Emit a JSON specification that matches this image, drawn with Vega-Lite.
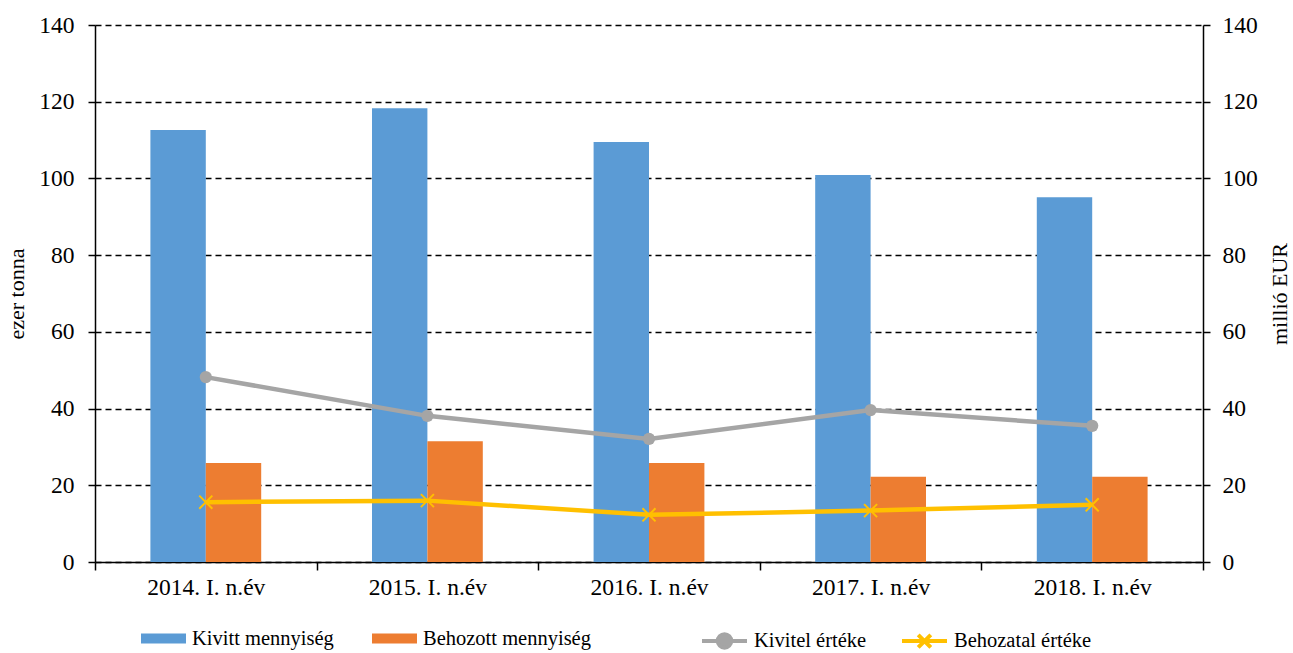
{
  "$schema": "https://vega.github.io/schema/vega-lite/v6.json",
  "autosize": {"type": "none"},
  "width": 1108,
  "height": 537,
  "padding": {"left": 95, "top": 25, "right": 90, "bottom": 91},
  "background": "white",
  "config": {
    "view": {"stroke": null},
    "font": "Liberation Serif",
    "axis": {
      "labelFont": "Liberation Serif",
      "titleFont": "Liberation Serif",
      "labelFontSize": 23.5,
      "titleFontSize": 22,
      "titleFontWeight": "normal",
      "labelColor": "black",
      "titleColor": "black",
      "domainColor": "black",
      "domainWidth": 1.5,
      "tickColor": "black",
      "tickWidth": 1.5
    },
    "legend": {
      "labelFont": "Liberation Serif",
      "labelFontSize": 20.5,
      "labelColor": "black",
      "labelLimit": 400
    }
  },
  "data": {
    "values": [
      {"year": "2014. I. n.év", "series": "Kivitt mennyiség", "value": 112.6},
      {"year": "2015. I. n.év", "series": "Kivitt mennyiség", "value": 118.3},
      {"year": "2016. I. n.év", "series": "Kivitt mennyiség", "value": 109.5},
      {"year": "2017. I. n.év", "series": "Kivitt mennyiség", "value": 100.9},
      {"year": "2018. I. n.év", "series": "Kivitt mennyiség", "value": 95.1},
      {"year": "2014. I. n.év", "series": "Behozott mennyiség", "value": 25.8},
      {"year": "2015. I. n.év", "series": "Behozott mennyiség", "value": 31.5},
      {"year": "2016. I. n.év", "series": "Behozott mennyiség", "value": 25.8},
      {"year": "2017. I. n.év", "series": "Behozott mennyiség", "value": 22.2},
      {"year": "2018. I. n.év", "series": "Behozott mennyiség", "value": 22.2},
      {"year": "2014. I. n.év", "series": "Kivitel értéke", "value": 48.2},
      {"year": "2015. I. n.év", "series": "Kivitel értéke", "value": 38.1},
      {"year": "2016. I. n.év", "series": "Kivitel értéke", "value": 32.1},
      {"year": "2017. I. n.év", "series": "Kivitel értéke", "value": 39.6},
      {"year": "2018. I. n.év", "series": "Kivitel értéke", "value": 35.5},
      {"year": "2014. I. n.év", "series": "Behozatal értéke", "value": 15.6},
      {"year": "2015. I. n.év", "series": "Behozatal értéke", "value": 16.0},
      {"year": "2016. I. n.év", "series": "Behozatal értéke", "value": 12.3},
      {"year": "2017. I. n.év", "series": "Behozatal értéke", "value": 13.4},
      {"year": "2018. I. n.év", "series": "Behozatal értéke", "value": 14.9}
    ]
  },
  "encoding": {
    "x": {
      "field": "year",
      "type": "nominal",
      "sort": null,
      "scale": {"paddingInner": 0, "paddingOuter": 0},
      "axis": {
        "title": null,
        "labelAngle": 0,
        "tickBand": "extent",
        "tickSize": 8,
        "labelPadding": 5,
        "grid": false
      }
    }
  },
  "layer": [
    {
      "transform": [{"filter": "datum.series === 'Kivitt mennyiség' || datum.series === 'Behozott mennyiség'"}],
      "mark": {"type": "bar", "opacity": 1},
      "encoding": {
        "xOffset": {
          "field": "series",
          "type": "nominal",
          "sort": ["Kivitt mennyiség", "Behozott mennyiség"],
          "scale": {"paddingInner": 0, "paddingOuter": 1.07}
        },
        "y": {
          "field": "value",
          "type": "quantitative",
          "scale": {"domain": [0, 140], "nice": false},
          "axis": {
            "title": "ezer tonna",
            "orient": "left",
            "values": [0, 20, 40, 60, 80, 100, 120, 140],
            "tickSize": 7,
            "labelPadding": 14,
            "titlePadding": 10,
            "grid": true,
            "gridColor": "black",
            "gridDash": [6, 4],
            "gridWidth": 1.4
          }
        },
        "fill": {
          "field": "series",
          "type": "nominal",
          "scale": {
            "domain": ["Kivitt mennyiség", "Behozott mennyiség"],
            "range": ["#5B9BD5", "#ED7D31"]
          },
          "legend": {
            "title": null,
            "orient": "none",
            "direction": "horizontal",
            "legendX": 46,
            "legendY": 591,
            "symbolType": "M-1,-0.22H1V0.22H-1Z",
            "symbolSize": 2025,
            "symbolStrokeWidth": 0,
            "columnPadding": 38,
            "labelOffset": 6
          }
        }
      }
    },
    {
      "transform": [{"filter": "datum.series === 'Kivitel értéke' || datum.series === 'Behozatal értéke'"}],
      "encoding": {
        "y": {
          "field": "value",
          "type": "quantitative",
          "scale": {"domain": [0, 140], "nice": false},
          "axis": {
            "title": "millió EUR",
            "orient": "right",
            "values": [0, 20, 40, 60, 80, 100, 120, 140],
            "tickSize": 7,
            "labelPadding": 12,
            "titlePadding": 12,
            "titleAngle": -90,
            "titleBaseline": "top",
            "grid": false
          }
        }
      },
      "layer": [
        {
          "mark": {"type": "line", "strokeWidth": 4.5},
          "encoding": {
            "stroke": {
              "field": "series",
              "type": "nominal",
              "scale": {
                "domain": ["Kivitel értéke", "Behozatal értéke"],
                "range": ["#A5A5A5", "#FFC000"]
              },
              "legend": {
                "title": null,
                "orient": "none",
                "direction": "horizontal",
                "legendX": 605,
                "legendY": 591,
                "symbolSize": 2025,
                "columnPadding": 27,
                "labelOffset": 5,
                "encode": {
                  "symbols": {
                    "update": {
                      "shape": {"signal": "datum.value === 'Kivitel értéke' ? 'M-1,0H1M-0.3,0A0.3,0.3 0 1,0 0.3,0A0.3,0.3 0 1,0 -0.3,0' : 'M-1,0H1M-0.28,-0.28L0.28,0.28M-0.28,0.28L0.28,-0.28'"},
                      "fill": {"signal": "datum.value === 'Kivitel értéke' ? '#A5A5A5' : 'transparent'"},
                      "stroke": {"signal": "datum.value === 'Kivitel értéke' ? '#A5A5A5' : '#FFC000'"},
                      "strokeWidth": {"value": 4},
                      "opacity": {"value": 1}
                    }
                  }
                }
              }
            }
          }
        },
        {
          "transform": [{"filter": "datum.series === 'Kivitel értéke'"}],
          "mark": {"type": "point", "shape": "circle", "filled": true, "size": 150, "opacity": 1, "color": "#A5A5A5"}
        },
        {
          "transform": [{"filter": "datum.series === 'Behozatal értéke'"}],
          "mark": {"type": "point", "shape": "M-1,-1L1,1M-1,1L1,-1", "filled": false, "size": 170, "strokeWidth": 2, "opacity": 1, "color": "#FFC000"}
        }
      ]
    }
  ],
  "resolve": {"scale": {"y": "independent"}}
}
